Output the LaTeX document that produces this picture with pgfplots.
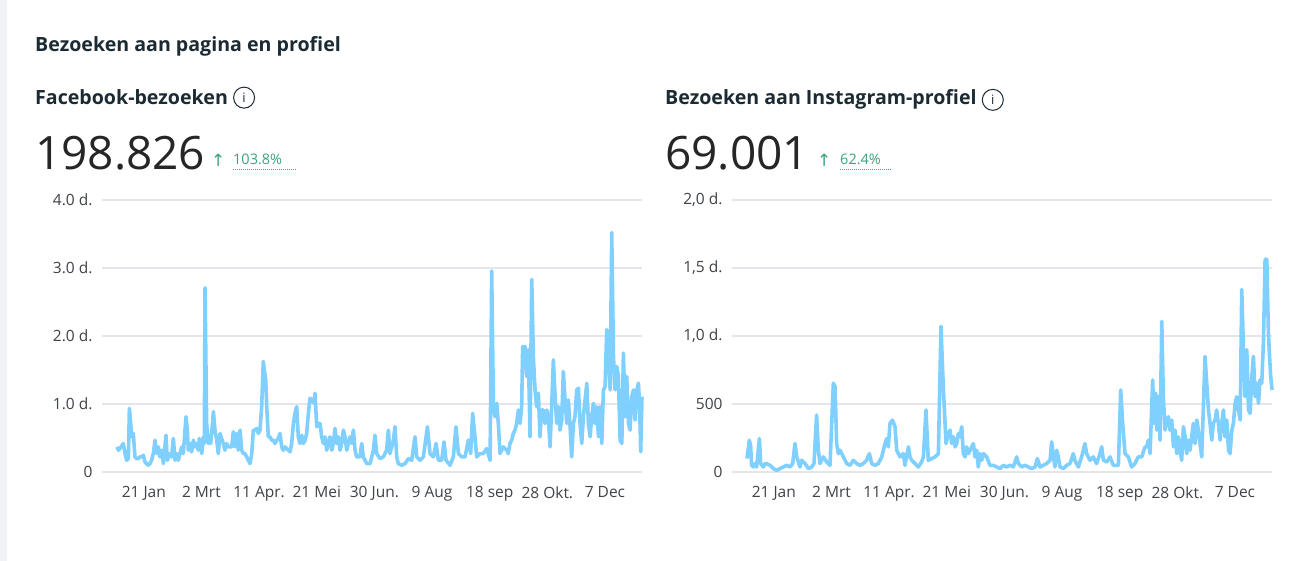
\documentclass[border=0pt]{standalone}
\usepackage{pgfplots}
\pgfplotsset{compat=1.18}
\usepackage{fontspec}
\setmainfont{Open Sans}
\newfontfamily\symfont{DejaVu Sans}
\definecolor{txt}{HTML}{1C2B33}
\definecolor{lbl}{HTML}{3E4348}
\definecolor{gridc}{HTML}{E4E6EB}
\definecolor{linec}{RGB}{128,208,255}
\definecolor{grn}{HTML}{3AA57A}
\definecolor{side}{HTML}{F0F2F5}
\pgfplotsset{
  visits/.style={
    scale only axis, width=540pt, height=272pt,
    anchor=south west,
    xmin=-10.4, xmax=364.3,
    ymin=0,
    axis line style={draw=none},
    tick style={draw=none},
    major tick length=0pt,
    ymajorgrids,
    grid style={color=gridc, line width=1.6pt},
    xtick={20,60,100,140,180,220,260,300,340},
    xticklabels={21 Jan,2 Mrt,11 Apr.,21 Mei,30 Jun.,9 Aug,18 sep,28 Okt.,7 Dec},
    xticklabel style={font=\fontsize{15.5}{16}\selectfont, text=lbl, anchor=north, yshift=-11pt, xshift=-2pt},
    yticklabel style={font=\fontsize{15.5}{16}\selectfont, text=lbl, anchor=east, xshift=-6pt},
    clip=false,
  },
  serie/.style={color=linec, line width=3.6pt, line join=round, mark=none},
}
\begin{document}
\begin{tikzpicture}
\useasboundingbox (0,0) rectangle (1297pt,561pt);
\fill[white] (0,0) rectangle (1297pt,561pt);
\fill[side] (0,0) rectangle (7pt,561pt);
% titles
\node[anchor=base west, inner sep=0, text=txt, font=\fontsize{19.6}{20}\selectfont\bfseries] at (35pt,509pt) {Bezoeken aan pagina en profiel};
\node[anchor=base west, inner sep=0, text=txt, font=\fontsize{19.6}{20}\selectfont\bfseries] (t1) at (35pt,456pt) {Facebook-bezoeken};
\node[draw=txt, circle, line width=1pt, inner sep=0pt, minimum size=21pt, text=txt, font=\fontsize{13}{13}\selectfont, anchor=west, xshift=5pt] at (t1.east) {i};
\node[anchor=base west, inner sep=0, text=txt, font=\fontsize{19.6}{20}\selectfont\bfseries] (t2) at (665pt,456pt) {Bezoeken aan Instagram-profiel};
\node[draw=txt, circle, line width=1pt, inner sep=0pt, minimum size=21pt, text=txt, font=\fontsize{13}{13}\selectfont, anchor=west, xshift=5pt] at (t2.east) {i};
% totals
\node[anchor=base west, inner sep=0, text=black!85, font=\fontsize{46}{47}\selectfont] (n1) at (35pt,391pt) {198.826};
\node[anchor=base west, inner sep=0, text=grn, font=\fontsize{17}{17}\selectfont\symfont] (a1) at (211pt,394pt) {↑};
\node[anchor=base west, inner sep=0, text=grn, font=\fontsize{14.5}{15}\selectfont] (p1) at (233pt,396pt) {103.8\%};
\draw[grn, dash pattern=on 1pt off 1pt, line width=0.9pt] (233pt,392pt) -- (297pt,392pt);
\node[anchor=base west, inner sep=0, text=black!85, font=\fontsize{46}{47}\selectfont] (n2) at (665pt,391pt) {69.001};
\node[anchor=base west, inner sep=0, text=grn, font=\fontsize{17}{17}\selectfont\symfont] (a2) at (817pt,394pt) {↑};
\node[anchor=base west, inner sep=0, text=grn, font=\fontsize{14.5}{15}\selectfont] (p2) at (840pt,396pt) {62.4\%};
\draw[grn, dash pattern=on 1pt off 1pt, line width=0.9pt] (840pt,392pt) -- (892pt,392pt);

\begin{axis}[visits, at={(102pt,89pt)}, ymax=4000,
  ytick={0,1000,2000,3000,4000},
  yticklabels={0,1.0 d.,2.0 d.,3.0 d.,4.0 d.}]
\addplot[serie] coordinates {
(0,370)(1,320)(2,345)(4.4,419)(5.6,271)(6.7,172)(7.9,197)(8.6,936)(9.5,714)(10.2,517)(11.3,567)(12.5,222)(13.6,197)(14.8,197)(16,222)(17.1,222)(18.3,246)(19.4,148)(20.6,123)(21.7,99)(22.9,123)(24,172)(25.2,271)(26.4,468)(27.5,271)(28.7,369)(29.8,222)(31,320)(32.2,123)(34,542)(34.9,172)(35.9,222)(36.8,271)(37.9,222)(39.1,493)(40.3,172)(41.4,271)(42.6,172)(43.7,271)(44.9,369)(46,271)(47.9,813)(48.8,616)(49.5,320)(50.7,419)(51.8,296)(53,468)(54.1,369)(55.3,419)(56.4,320)(57.1,493)(58.8,271)(59.9,517)(60.6,419)(61.1,2709)(62.2,714)(63.4,419)(64.1,517)(65,419)(65.9,616)(66.9,887)(68,616)(69.2,468)(70.3,271)(71.5,567)(72.6,493)(73.8,419)(74.9,320)(76.1,419)(77.3,369)(78.4,369)(79.6,369)(80.7,591)(81.9,369)(83,567)(84.2,320)(85.4,616)(86.5,320)(87.7,271)(88.8,271)(90,222)(91.1,172)(92.3,123)(93.5,271)(94.6,616)(95.8,616)(96.9,640)(98.1,567)(99.2,616)(100.4,961)(101.5,1626)(102.2,1502)(103.2,1355)(103.9,961)(105,517)(106.2,517)(107.3,468)(108.5,468)(109.6,419)(110.8,468)(111.9,493)(113.1,567)(114.3,369)(115.4,320)(116.6,369)(117.7,345)(118.9,320)(120.1,296)(121.2,419)(122.4,714)(123.5,862)(124.7,961)(125.8,517)(127,419)(128.2,542)(129.3,419)(130.5,468)(131.6,567)(132.8,862)(133.9,1084)(135.6,1059)(136.7,1010)(137.4,1158)(138.6,665)(139.7,714)(140.9,714)(142,517)(143.2,419)(144.4,517)(145.5,320)(146.7,419)(147.8,517)(149,320)(150.1,419)(151.3,640)(152.4,419)(153.6,517)(154.8,320)(155.9,419)(157.1,616)(158.2,517)(159.4,320)(160.5,419)(161.7,517)(162.9,419)(164,616)(165.2,320)(166.3,222)
(168.6,222)(169.8,419)(170.9,222)(173.3,123)(175.6,123)(177.9,320)(179,542)(180.2,271)(182.5,197)(184.8,222)(187.1,320)(188.3,616)(189.4,271)(191.8,468)(192.9,665)(194.1,222)(195.2,123)(197.5,99)(199.9,123)(202.2,197)(204.5,172)(206.8,517)(208,222)(210.3,172)(212.6,222)(215.4,665)(217.2,271)(219.5,222)(221.4,419)(223,172)(225.3,172)(226.9,443)(228.3,172)(231.1,99)(233.4,222)(235.2,665)(236.9,271)(239.2,222)(241.5,222)(243.8,468)(245.4,271)(246.8,862)(248.4,517)(249.6,222)(251.9,271)(254.2,271)(256.5,345)(258.9,172)(260,2956)(261.2,961)(262.3,813)(263.5,1010)(264.6,714)(265.8,271)(268.1,369)(270.4,320)(271.5,271)(272.7,419)(273.9,468)(275,567)(276.2,616)(277.3,714)(278.5,911)(279.7,714)(280.8,961)(281.5,1847)(282.4,1798)(283.1,1847)(284.3,1404)(285.4,1798)(286.6,517)(287.8,2832)(288.9,1699)(290.1,1207)(291.2,961)(292.4,1158)(293.5,517)(294.7,911)(295.9,911)(297,714)(298.2,911)(299.3,813)(300.5,369)(301.6,961)(302.8,1650)(304,1108)(305.1,714)(306.3,961)(307.4,616)(308.6,764)(309.7,1478)(310.9,1059)(312.1,714)(313.2,1059)(314.4,665)(315.5,222)(316.7,714)(317.8,813)(319,1207)(320.2,1232)(321.3,714)(322.5,419)(323.6,813)(326,1305)(327.1,714)(328.3,517)(329.4,813)(330.6,1010)(331.7,714)(332.9,961)(334.1,517)(335.2,961)(336.4,419)(337.5,1207)(338.7,1256)(339.8,2094)(341,1699)(342.2,1207)(343.3,3522)(344.5,1699)(345.6,1207)(346.8,1552)(347.9,1404)(349.1,468)(350.3,419)(351.4,1749)(352.6,813)(353.7,1404)(354.9,714)(356,616)(357.2,1108)(358.4,1207)(359.5,764)(360.7,1207)(361.8,1305)(362.6,1010)(363.4,296)(364.3,1108)
};
\end{axis}

\begin{axis}[visits, at={(732pt,89pt)}, ymax=2000,
  ytick={0,500,1000,1500,2000},
  yticklabels={0,500,{1,0 d.},{1,5 d.},{2,0 d.}}]
\addplot[serie] coordinates {
(0,99)(1.6,234)(2.5,197)(3.2,49)(4.4,37)(5.6,62)(6.7,37)(8.6,246)(9.5,62)(11.3,37)(12.5,62)(13.6,62)(16,49)(18.3,25)(20.6,12)(22.9,25)(25.2,37)(27.5,49)(29.8,37)(31.7,62)(33.3,209)(34.5,111)(36.8,37)(37.9,86)(40.3,62)(42.6,25)(44.9,37)(46.5,62)(48.3,419)(49.5,160)(50.7,62)(53,111)(55.3,74)(57.6,49)(59.9,653)(61.1,628)(62.2,209)(63.4,135)(64.5,160)(66.9,111)(69.2,62)(71.5,49)(73.8,86)(76.1,62)(78.4,49)(80.7,62)(83,86)(84.9,135)(86.5,62)(88.8,49)(91.1,62)(93.5,111)(95.8,209)(96.9,246)(98.1,185)(99.2,357)(100.9,382)(102.7,333)(103.9,160)(105,135)(106.2,111)(108.5,135)(109.6,49)(112,185)(113.1,111)(114.3,86)(116.6,62)(118.9,37)(121.2,74)(122.4,111)(124.2,456)(125.8,86)(128.2,99)(130.5,111)(132.8,135)(134.6,1071)(136.2,628)(138.1,209)(139.7,283)(140.9,308)(142,209)(143.2,259)(144.4,185)(145.5,209)(146.7,283)(147.8,259)(149,333)(150.1,135)(151.3,111)(152.4,185)(153.6,135)(155.9,185)(157.1,209)(158.2,111)(159.4,160)(160.5,37)(161.7,135)(162.9,86)(164,135)(166.3,111)(168.6,49)(170.9,49)(173.3,37)(175.6,25)(177.9,49)(180.2,37)(182.5,49)(184.8,37)(187.1,111)(188.3,62)(190.6,37)(192.9,49)(195.2,37)(197.5,25)(199.9,37)(201.5,99)(203.3,37)(205.6,49)(207.9,62)(210.3,86)(211.4,222)(212.6,111)(213.7,37)(214.9,160)(216,111)(217.2,37)(219.5,25)(221.8,49)(224.1,62)(226.4,135)(227.5,86)(229.9,37)(232.2,111)(234.5,209)(235.7,135)(238,86)(240.3,111)(242.6,62)(244.9,135)(246.1,185)(247.3,86)(249.6,74)(251.9,111)(254.2,49)(257.7,49)(259.3,603)(260.7,357)(262.3,135)(264.6,111)(266.9,37)(269.2,62)(271.5,111)(273.9,111)(276.2,185)(277.3,185)(278.5,234)(279.7,135)(280.4,357)(281.5,677)(282.4,357)(283.6,579)(284.3,308)(285.4,554)(286.6,234)(287.8,1108)(288.9,554)(290.1,308)(291.2,382)(292.4,406)(293.5,308)(294.7,382)(295.9,185)(297,308)(298.2,135)(299.3,259)(300.5,160)(301.6,86)(302.8,333)(304,259)(305.1,135)(306.3,234)(307.4,160)(308.6,259)(309.7,357)(310.9,209)(312.1,382)(313.2,308)(314.4,209)(315.5,111)(316.7,480)(317.8,850)(319,653)(320.2,456)(321.3,357)(322.5,234)(323.6,357)(324.8,382)(325.9,456)(327.1,357)(328.3,234)(329.4,357)(330.6,456)(331.7,259)(332.9,382)(334.1,160)(335.2,135)(336.4,308)(337.5,357)(338.7,505)(339.8,554)(341,456)(342.2,382)(343.3,1342)(344.5,899)(345.6,554)(346.8,899)(348,456)(349.1,431)(350.3,702)(351.4,850)(352.6,554)(353.7,653)(354.9,505)(356,677)(357.2,653)(358.4,973)(359.5,1564)(360.7,1564)(361.8,1022)(362.6,850)(363.4,702)(364.3,603)
};
\end{axis}
\end{tikzpicture}
\end{document}
